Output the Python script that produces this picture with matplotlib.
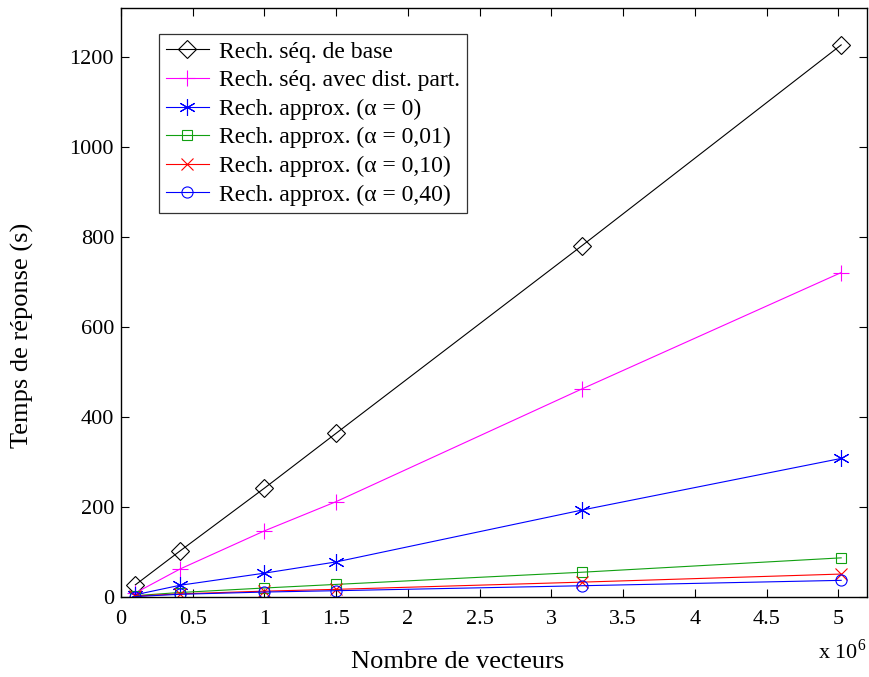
import matplotlib
matplotlib.use("Agg")
import matplotlib.pyplot as plt
from matplotlib.ticker import MultipleLocator

plt.rcParams['font.family'] = ['Liberation Serif', 'DejaVu Serif']
plt.rcParams['mathtext.fontset'] = 'custom'
plt.rcParams['mathtext.rm'] = 'Liberation Serif'

# Nombre de vecteurs (x 10^6)
n_vecteurs = [0.1, 0.41, 1.0, 1.5, 3.21, 5.02]

# Temps de réponse (s)
seq_base = [27, 102, 242, 364, 780, 1227]
seq_dist = [9, 62, 147, 212, 462, 721]
approx_0 = [5, 26, 53, 78, 193, 308]
approx_001 = [3, 10, 20, 28, 55, 87]
approx_010 = [2, 7, 13, 17, 33, 51]
approx_040 = [1, 6, 11, 14, 25, 37]

labels = [
    "Rech. séq. de base",
    "Rech. séq. avec dist. part.",
    "Rech. approx. (α = 0)",
    "Rech. approx. (α = 0,01)",
    "Rech. approx. (α = 0,10)",
    "Rech. approx. (α = 0,40)",
]

W, H = 869, 677
fig = plt.figure(figsize=(W / 100, H / 100), dpi=100)
left, right, top, bottom = 121, 867, 8, 597
ax = fig.add_axes([left / W, 1 - bottom / H, (right - left) / W, (bottom - top) / H])

styles = [
    (seq_base, "black", "D", 9, "none"),
    (seq_dist, "#ff00ff", "+", 12, None),
    (approx_0, "#0000ff", (6, 2, 0), 12, None),
    (approx_001, "#11a011", "s", 7, "none"),
    (approx_010, "#ff0000", "x", 8, None),
    (approx_040, "#0000ff", "o", 8, "none"),
]

for (vals, col, mk, ms, mfc), lab in zip(styles, labels):
    kw = dict(color=col, marker=mk, markersize=ms, linewidth=0.8,
              markeredgewidth=0.8, label=lab)
    if mfc is not None:
        kw["markerfacecolor"] = mfc
    ax.plot(n_vecteurs, vals, **kw)

ax.set_xlim(0, 5.2)
ax.set_ylim(0, 1309)
xt = [0, 0.5, 1, 1.5, 2, 2.5, 3, 3.5, 4, 4.5, 5]
ax.set_xticks(xt)
ax.set_xticklabels([("%g" % v) for v in xt])
ax.yaxis.set_major_locator(MultipleLocator(200))

ax.tick_params(direction="in", top=True, right=True, length=6, width=0.8,
               labelsize=16)
ax.tick_params(axis="x", pad=9)
ax.tick_params(axis="y", pad=5)
for s in ax.spines.values():
    s.set_linewidth(1.0)

fig.text(458 / W, 1 - 662 / H, "Nombre de vecteurs", fontsize=19,
         ha="center", va="center")
fig.text(22 / W, 1 - 335 / H, "Temps de réponse (s)", fontsize=19,
         ha="center", va="center", rotation=90)
fig.text(818 / W, 1 - 652 / H, r"x 10$^{6}$", fontsize=16,
         ha="left", va="center")

leg = ax.legend(loc="upper left",
                bbox_to_anchor=((159 - left) / (right - left), (bottom - 34) / (bottom - top)),
                fontsize=17, frameon=True, fancybox=False, edgecolor="black",
                borderpad=0.3, labelspacing=0.3, handlelength=1.8,
                handletextpad=0.45, borderaxespad=0)
leg.get_frame().set_linewidth(0.9)

fig.savefig("out.png", dpi=100, facecolor="white")
